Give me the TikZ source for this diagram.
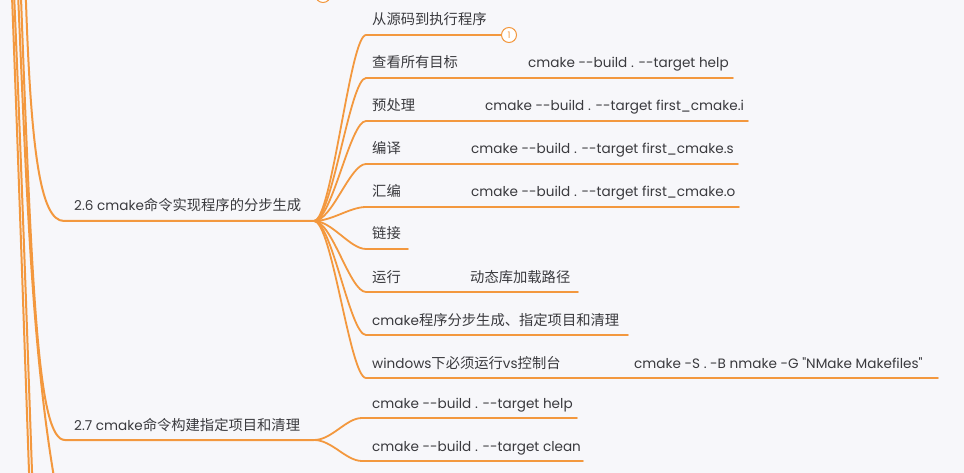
\documentclass[tikz,border=0pt]{standalone}
\usepackage{fontspec}
\setmainfont{Poppins}[Ligatures=TeXOff, Scale=0.95]
\newfontfamily\cjk{Noto Sans CJK SC}
\definecolor{mmorange}{RGB}{243,152,62}
\definecolor{mmtext}{RGB}{58,58,62}
\definecolor{mmback}{RGB}{247,247,250}

\begin{document}
\begin{tikzpicture}[x=1pt,y=-1pt]
        \tikzstyle{branch}=[draw=mmorange, line width=1.8pt, line cap=round]
        \tikzstyle{trunk}=[draw=mmorange, line width=2pt]
        \tikzstyle{topic}=[anchor=base west, inner sep=0pt, text=mmtext, font=\fontsize{14.3}{17}\selectfont]
        \tikzstyle{badge}=[circle, draw=mmorange, fill=white, line width=1pt, minimum size=15pt, inner sep=0pt, text=mmorange, font=\fontsize{9.5}{9.5}\selectfont]
        \fill[mmback] (0,0) rectangle (964,473);
        \useasboundingbox (0,0) rectangle (964,473);
        \clip (0,0) rectangle (964,473);
        % trunk lines coming down from the root above
        \coordinate (ra) at (11,-30);
        \coordinate (rb) at (13,-30);
        \coordinate (rc) at (17,-30);
        \coordinate (rd) at (20,-30);
        \coordinate (re) at (25,-30);
        \coordinate (ea) at (30,500);
        \coordinate (eb) at (33,500);
        \coordinate (ec) at (58,500);
        \draw [trunk] (ra) .. controls (18,150) and (24,330) .. (ea);
        \draw [trunk] (rb) .. controls (21,150) and (27,330) .. (eb);
        \draw [trunk] (rc) .. controls (27,200) and (32,360) .. (ec);
        % badge of the topic above
        \node [badge] (b0) at (323,-5) {};
        % 2.6
        \coordinate (a26) at (64,221);
        \coordinate (j26) at (314,221);
        \node [topic] (n26) at (74,211) {2.6 cmake{\cjk 命令实现程序的分步生成}};
        \draw [trunk] (re) .. controls (30,150) and (40,221) .. (a26) -- (j26);
        % 2.7
        \coordinate (a27) at (65,440);
        \coordinate (j27) at (314,440);
        \node [topic] (n27) at (74,430) {2.7 cmake{\cjk 命令构建指定项目和清理}};
        \draw [trunk] (rd) .. controls (32,300) and (38,440) .. (a27) -- (j27);
        % children of 2.6
        \node [badge] (b1) at (509,35) {1};
        \coordinate (s1) at (366,35);
        \node [topic] (t1) at (372,25) {\cjk 从源码到执行程序};
        \draw [branch] (j26) .. controls +(18,0) and +(-16,0) .. (s1) -- (b1.west);
        \coordinate (s2) at (366,78);
        \coordinate (e2) at (733,78);
        \node [topic] (t2) at (372,68) {\cjk 查看所有目标};
        \node [topic] (c2) at (528,68) {cmake --build . --target help};
        \draw [branch] (j26) .. controls +(18,0) and +(-16,0) .. (s2) -- (e2);
        \coordinate (s3) at (366,121);
        \coordinate (e3) at (748,121);
        \node [topic] (t3) at (372,111) {\cjk 预处理};
        \node [topic] (c3) at (485,111) {cmake --build . --target first\_cmake.i};
        \draw [branch] (j26) .. controls +(18,0) and +(-16,0) .. (s3) -- (e3);
        \coordinate (s4) at (366,164);
        \coordinate (e4) at (738,164);
        \node [topic] (t4) at (372,154) {\cjk 编译};
        \node [topic] (c4) at (471,154) {cmake --build . --target first\_cmake.s};
        \draw [branch] (j26) .. controls +(18,0) and +(-16,0) .. (s4) -- (e4);
        \coordinate (s5) at (366,207);
        \coordinate (e5) at (739,207);
        \node [topic] (t5) at (372,197) {\cjk 汇编};
        \node [topic] (c5) at (471,197) {cmake --build . --target first\_cmake.o};
        \draw [branch] (j26) .. controls +(18,0) and +(-16,0) .. (s5) -- (e5);
        \coordinate (s6) at (366,249);
        \coordinate (e6) at (408,249);
        \node [topic] (t6) at (372,239) {\cjk 链接};
        \draw [branch] (j26) .. controls +(18,0) and +(-16,0) .. (s6) -- (e6);
        \coordinate (s7) at (366,292);
        \coordinate (e7) at (578,292);
        \node [topic] (t7) at (372,282) {\cjk 运行};
        \node [topic] (c7) at (470,282) {\cjk 动态库加载路径};
        \draw [branch] (j26) .. controls +(18,0) and +(-16,0) .. (s7) -- (e7);
        \coordinate (s8) at (366,335);
        \coordinate (e8) at (628,335);
        \node [topic] (t8) at (372,325) {cmake{\cjk 程序分步生成、指定项目和清理}};
        \draw [branch] (j26) .. controls +(18,0) and +(-16,0) .. (s8) -- (e8);
        \coordinate (s9) at (366,378);
        \coordinate (e9) at (938,378);
        \node [topic] (t9) at (372,368) {windows{\cjk 下必须运行}vs{\cjk 控制台}};
        \node [topic] (c9) at (634,368) {cmake -S . -B nmake -G "NMake Makefiles"};
        \draw [branch] (j26) .. controls +(18,0) and +(-16,0) .. (s9) -- (e9);
        % children of 2.7
        \coordinate (s10) at (362,418);
        \coordinate (e10) at (577,418);
        \node [topic] (t10) at (372,408) {cmake --build . --target help};
        \draw [branch] (j27) .. controls +(18,0) and +(-16,0) .. (s10) -- (e10);
        \coordinate (s11) at (362,461);
        \coordinate (e11) at (583,461);
        \node [topic] (t11) at (372,451) {cmake --build . --target clean};
        \draw [branch] (j27) .. controls +(18,0) and +(-16,0) .. (s11) -- (e11);
\end{tikzpicture}
\end{document}
